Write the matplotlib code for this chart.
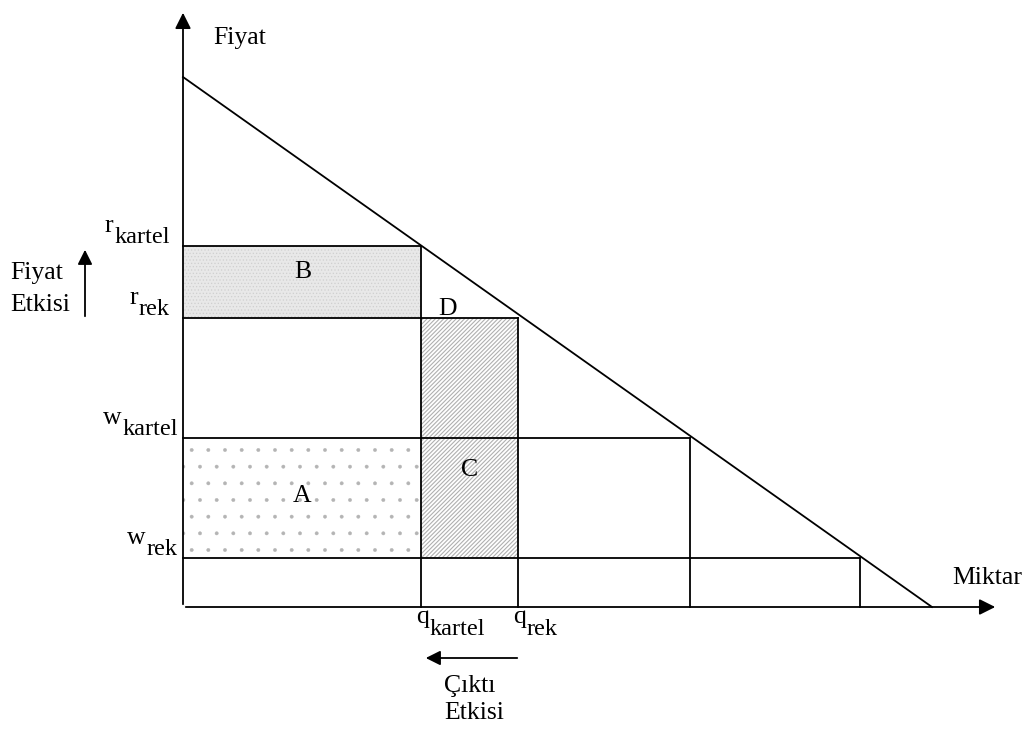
import matplotlib as mpl
import matplotlib.pyplot as plt
from matplotlib.patches import Rectangle

plt.rcParams['font.family'] = ['Liberation Serif', 'DejaVu Serif']

# demand line: price intercept and quantity intercept
demand_p0 = 530
demand_q0 = 749

# price levels and the quantities where they meet the demand line
price_base = ['r', 'r', 'w', 'w']
price_sub = ['kartel', 'rek', 'kartel', 'rek']
prices = [361, 289, 169, 49]
quantities = [238, 335, 507, 677]
q_base = ['q', 'q']
q_sub = ['kartel', 'rek']

fig = plt.figure(figsize=(10.3, 7.29), dpi=100)
ax = fig.add_axes([0, 0, 1, 1])
ax.set_xlim(-183, 1030 - 183)
ax.set_ylim(-122, 607)
ax.axis('off')

lw = 1.3
fs = 18.5
sub_fs = 17.5

# shaded areas (B, A, C)
mpl.rcParams['hatch.linewidth'] = 0.5
ax.add_patch(Rectangle((0, prices[1]), quantities[0], prices[0] - prices[1],
                       facecolor='#e8e8e8', edgecolor='#cfcfcf', hatch='.....', lw=0))
mpl.rcParams['hatch.linewidth'] = 0.3
ax.add_patch(Rectangle((0, prices[3]), quantities[0], prices[2] - prices[3],
                       facecolor='white', edgecolor='#b4b4b4', hatch='.', lw=0))
mpl.rcParams['hatch.linewidth'] = 0.8
ax.add_patch(Rectangle((quantities[0], prices[3]), quantities[1] - quantities[0],
                       prices[1] - prices[3],
                       facecolor='white', edgecolor='#b0b0b0', hatch='////////', lw=0))

# demand line
ax.plot([0, demand_q0], [demand_p0, 0], color='black', lw=lw)

# horizontal and vertical lines
for p, q in zip(prices, quantities):
    ax.plot([0, q], [p, p], color='black', lw=lw)
    ax.plot([q, q], [0, p], color='black', lw=lw)

# axes with arrows
ax.annotate('', xy=(0, 597), xytext=(0, 0),
            arrowprops=dict(arrowstyle='-|>', color='black', lw=lw, mutation_scale=24))
ax.annotate('', xy=(815, 0), xytext=(0, 0),
            arrowprops=dict(arrowstyle='-|>', color='black', lw=lw, mutation_scale=24))

ax.text(30, 569, 'Fiyat', fontsize=fs, va='center', ha='left')
ax.text(769, 29, 'Miktar', fontsize=fs, va='center', ha='left')

# price labels: right aligned, subscript at full size and lowered
right_edge = [-13, -13, -5, -5]
for b, s, p, xr in zip(price_base, price_sub, prices, right_edge):
    st = ax.text(xr, p + 3, s, fontsize=sub_fs, ha='right', va='baseline')
    ax.annotate(b, xy=(0, p + 14), xycoords=(st, 'data'), xytext=(-1, 0),
                textcoords='offset pixels', fontsize=fs, ha='right', va='baseline')

# quantity labels
for b, s, q in zip(q_base, q_sub, quantities[:2]):
    bt = ax.text(q - 5, -16, b, fontsize=fs, ha='left', va='baseline')
    ax.annotate(s, xy=(1, -28), xycoords=(bt, 'data'), xytext=(1, 0),
                textcoords='offset pixels', fontsize=sub_fs, ha='left', va='baseline')

ax.text(120, 335, 'B', fontsize=fs, ha='center', va='center')
ax.text(265, 298, 'D', fontsize=fs, ha='center', va='center')
ax.text(287, 137, 'C', fontsize=fs, ha='center', va='center')
ax.text(119, 111, 'A', fontsize=fs, ha='center', va='center')

# price effect arrow
ax.annotate('', xy=(-98, 360), xytext=(-98, prices[1] - 1),
            arrowprops=dict(arrowstyle='-|>', color='black', lw=lw, mutation_scale=22))
ax.text(-173, 334, 'Fiyat', fontsize=fs, ha='left', va='center')
ax.text(-173, 302, 'Etkisi', fontsize=fs, ha='left', va='center')

# output effect arrow
ax.annotate('', xy=(quantities[0] + 2, -51), xytext=(quantities[1] + 2, -51),
            arrowprops=dict(arrowstyle='-|>', color='black', lw=lw, mutation_scale=22))
ax.text(261, -79, 'Çıktı', fontsize=fs, ha='left', va='center')
ax.text(261, -106, 'Etkisi', fontsize=fs, ha='left', va='center')

fig.savefig('out.png', dpi=100, facecolor='white')
